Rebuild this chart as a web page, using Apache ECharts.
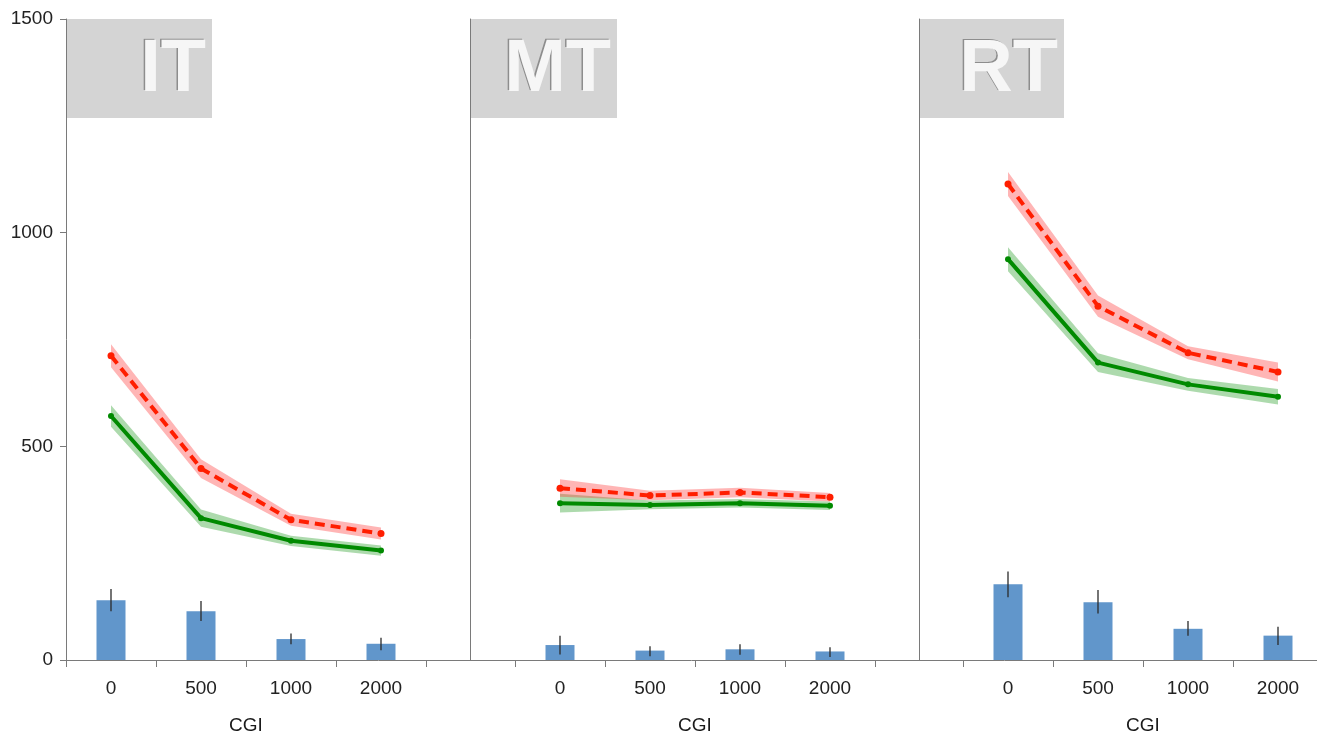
<!DOCTYPE html>
<html>
<head>
<meta charset="utf-8">
<script src="https://cdn.jsdelivr.net/npm/echarts@6/dist/echarts.min.js"></script>
<style>html,body{margin:0;padding:0;background:#fff}#c{width:1317px;height:732px}</style>
</head>
<body>
<div id="c"></div>
<script>
const categories = ['0', '500', '1000', '2000'];
const panelNames = ['IT', 'MT', 'RT'];
const yTicks = [0, 500, 1000, 1500];

// red (dashed) series: mean, lower, upper
const itRed = [712, 448, 328, 296];
const itRedLo = [685, 426, 314, 282];
const itRedHi = [739, 470, 342, 310];
const itGreen = [571, 332, 279, 256];
const itGreenLo = [546, 312, 267, 244];
const itGreenHi = [596, 352, 291, 268];
const itBars = [140, 114, 49, 38];
const itBarsLo = [114, 91, 37, 23];
const itBarsHi = [166, 138, 62, 52];

const mtRed = [402, 385, 392, 381];
const mtRedLo = [382, 374, 381, 371];
const mtRedHi = [423, 396, 403, 391];
const mtGreen = [367, 363, 367, 361];
const mtGreenLo = [345, 353, 357, 351];
const mtGreenHi = [389, 373, 377, 371];
const mtBars = [35, 22, 25, 20];
const mtBarsLo = [13, 9, 12, 7];
const mtBarsHi = [57, 32, 37, 30];

const rtRed = [1114, 828, 719, 674];
const rtRedLo = [1086, 803, 704, 652];
const rtRedHi = [1142, 853, 734, 696];
const rtGreen = [938, 696, 645, 616];
const rtGreenLo = [910, 674, 630, 598];
const rtGreenHi = [966, 718, 660, 634];
const rtBars = [177, 135, 73, 57];
const rtBarsLo = [147, 109, 57, 35];
const rtBarsHi = [207, 164, 91, 78];

const panels = [
  {red: itRed, redLo: itRedLo, redHi: itRedHi, green: itGreen, greenLo: itGreenLo, greenHi: itGreenHi, bars: itBars, barsLo: itBarsLo, barsHi: itBarsHi},
  {red: mtRed, redLo: mtRedLo, redHi: mtRedHi, green: mtGreen, greenLo: mtGreenLo, greenHi: mtGreenHi, bars: mtBars, barsLo: mtBarsLo, barsHi: mtBarsHi},
  {red: rtRed, redLo: rtRedLo, redHi: rtRedHi, green: rtGreen, greenLo: rtGreenLo, greenHi: rtGreenHi, bars: rtBars, barsLo: rtBarsLo, barsHi: rtBarsHi}
];

const FONT = '"Liberation Sans", Arial, sans-serif';
const AXIS_COLOR = '#7a7a7a';
const gridLefts = [66, 515, 963];
const gridW = 360;
const yOffsets = [0, 45, 44];
const boxes = [[67, 212], [470, 617], [919, 1064]];

const grids = [], xAxes = [], yAxes = [], series = [], graphics = [];

panels.forEach((p, i) => {
  grids.push({left: gridLefts[i], width: gridW, top: 19, bottom: 72, containLabel: false, outerBoundsMode: 'none'});
  xAxes.push({
    type: 'category', gridIndex: i, data: categories,
    name: 'CGI', nameLocation: 'middle', nameGap: 56,
    nameTextStyle: {fontSize: 19, color: '#1a1a1a', fontFamily: FONT},
    axisLine: {show: false},
    axisTick: {show: true, length: 7, lineStyle: {color: AXIS_COLOR}},
    axisLabel: {fontSize: 19, color: '#222', margin: 19, fontFamily: FONT},
    splitLine: {show: false}
  });
  yAxes.push({
    type: 'value', gridIndex: i, min: yTicks[0], max: yTicks[yTicks.length - 1], interval: 500,
    offset: yOffsets[i],
    axisLine: {show: true, lineStyle: {color: AXIS_COLOR}},
    axisTick: {show: i === 0, length: 6, lineStyle: {color: AXIS_COLOR}},
    axisLabel: {show: i === 0, fontSize: 19, color: '#222', margin: 13, fontFamily: FONT,
      formatter: v => String(v)},
    splitLine: {show: false}
  });

  const bandSeries = (lo, hi, color, key) => [
    {type: 'line', xAxisIndex: i, yAxisIndex: i, data: lo, stack: key + i, symbol: 'none',
     lineStyle: {opacity: 0}, silent: true, z: 1},
    {type: 'line', xAxisIndex: i, yAxisIndex: i, data: hi.map((v, k) => v - lo[k]), stack: key + i, symbol: 'none',
     lineStyle: {opacity: 0}, areaStyle: {color: color, opacity: 1}, silent: true, z: 1}
  ];
  series.push(...bandSeries(p.greenLo, p.greenHi, 'rgba(20,150,20,0.35)', 'g'));
  series.push(...bandSeries(p.redLo, p.redHi, 'rgba(255,60,60,0.38)', 'r'));

  series.push({
    type: 'bar', xAxisIndex: i, yAxisIndex: i, data: p.bars, barWidth: 29,
    itemStyle: {color: '#6196cb'}, z: 2
  });
  series.push({
    type: 'custom', xAxisIndex: i, yAxisIndex: i,
    data: categories.map((c, k) => [k, p.barsLo[k], p.barsHi[k]]),
    encode: {x: 0, y: [1, 2]},
    renderItem: function (params, api) {
      const a = api.coord([api.value(0), api.value(1)]);
      const b = api.coord([api.value(0), api.value(2)]);
      return {type: 'line', shape: {x1: a[0], y1: a[1], x2: b[0], y2: b[1]},
              style: {stroke: '#2a2a2a', lineWidth: 1.3}};
    },
    z: 3
  });
  series.push({
    type: 'line', xAxisIndex: i, yAxisIndex: i, data: p.green,
    symbol: 'circle', symbolSize: 6, itemStyle: {color: '#008a00'},
    lineStyle: {color: '#008a00', width: 4}, z: 4
  });
  series.push({
    type: 'line', xAxisIndex: i, yAxisIndex: i, data: p.red,
    symbol: 'circle', symbolSize: 7, itemStyle: {color: '#ff1e00'},
    lineStyle: {color: '#ff1e00', width: 4, type: [10, 6]}, z: 5
  });

  // title boxes
  const [bx0, bx1] = boxes[i];
  graphics.push({type: 'rect', left: bx0, top: 19, shape: {width: bx1 - bx0, height: 99},
    style: {fill: '#d4d4d4'}, z: -10});
  graphics.push({type: 'text', x: bx1 - 7.5, y: 69.5, z: -9,
    style: {text: panelNames[i], fill: '#8d8d8d', font: 'bold 74px ' + FONT, textAlign: 'right', textVerticalAlign: 'middle'}});
  graphics.push({type: 'text', x: bx1 - 6, y: 71, z: -8,
    style: {text: panelNames[i], fill: '#f6f6f6', font: 'bold 74px ' + FONT, textAlign: 'right', textVerticalAlign: 'middle'}});
});

// full-width baseline
grids.push({left: 66, right: 0, top: 19, bottom: 72, outerBoundsMode: 'none'});
xAxes.push({type: 'value', gridIndex: 3, min: 0, max: 1, axisLine: {show: true, lineStyle: {color: AXIS_COLOR}},
  axisTick: {show: false}, axisLabel: {show: false}, splitLine: {show: false}});
yAxes.push({type: 'value', gridIndex: 3, min: 0, max: 1500, show: false});

const chart = echarts.init(document.getElementById('c'), null, {renderer: 'canvas'});
chart.setOption({
  animation: false,
  backgroundColor: '#ffffff',
  textStyle: {fontFamily: FONT},
  grid: grids, xAxis: xAxes, yAxis: yAxes, series: series, graphic: graphics
});
</script>
</body>
</html>
